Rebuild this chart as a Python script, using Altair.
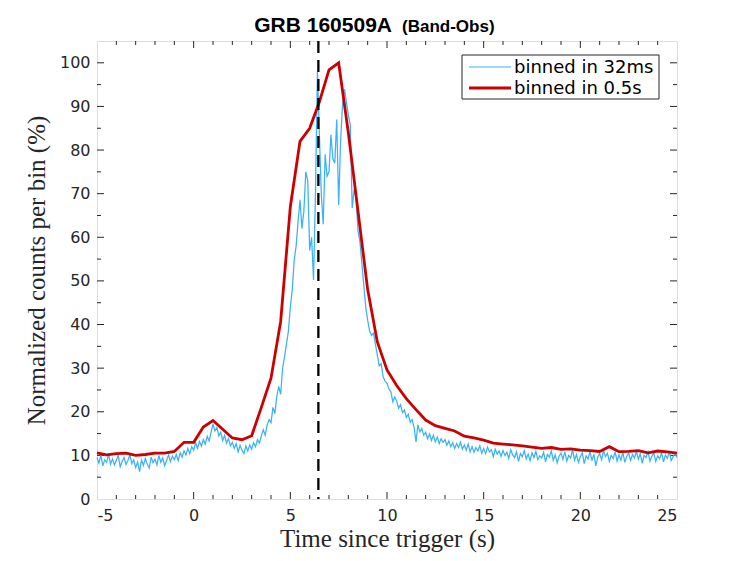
import altair as alt
import pandas as pd
import numpy as np

W, H = 580, 458

blue_start = -5.0
blue_step = 0.1
blue_vals = [
    9.5, 8.2, 10.1, 7.6, 9.0, 8.4, 10.3, 8.0, 9.2, 7.8,      # -5
    8.9, 10.0, 7.4, 8.6, 9.5, 7.9, 8.8, 10.2, 8.1, 9.0,      # -4
    7.2, 8.5, 6.3, 8.9, 7.7, 9.3, 8.0, 7.1, 9.6, 8.3,        # -3
    9.1, 7.8, 10.0, 8.4, 9.4, 7.6, 8.9, 10.1, 8.6, 9.8,      # -2
    9.0, 10.2, 8.8, 10.6, 9.6, 11.0, 10.1, 11.6, 10.4, 12.0, # -1
    11.2, 12.9, 11.6, 13.2, 12.1, 13.6, 12.6, 14.4, 13.3, 15.2,  # 0
    17.2, 15.6, 16.4, 14.5, 15.3, 13.4, 14.6, 12.8, 13.9, 12.2,  # 1
    13.0, 11.6, 12.7, 10.8, 12.3, 11.2, 10.4, 12.2, 11.0, 12.4,  # 2
    11.4, 12.9, 12.0, 13.6, 12.8, 14.5, 15.9, 14.6, 17.0, 18.2,  # 3
    17.5, 21.0, 19.6, 23.5, 25.8, 24.0, 30.0, 32.6, 35.5, 38.5,  # 4
    44.0, 48.0, 54.8, 58.0, 63.6, 68.6, 62.0, 66.0, 75.0, 73.0,  # 5
    57.0, 60.0, 50.2, 70.0, 98.0, 84.0, 70.0, 63.0, 79.0, 74.0,  # 6
    75.0, 83.5, 78.0, 77.0, 87.0, 67.4, 82.0, 90.4, 94.0, 91.0,  # 7
    88.0, 85.8, 66.7, 71.0, 69.0, 61.5, 59.0, 54.0, 49.0, 44.0,  # 8
    41.0, 38.5, 37.5, 38.0, 35.5, 33.0, 30.5, 31.0, 28.0, 27.0,  # 9
    26.5, 25.2, 24.6, 22.3, 23.4, 22.5, 20.8, 21.6, 19.8, 20.4,  # 10
    18.7, 19.4, 17.6, 18.2, 16.5, 13.1, 17.0, 15.4, 16.2, 14.6,  # 11
    15.3, 13.8, 14.9, 13.4, 14.6, 13.1, 14.2, 12.7, 13.8, 13.0,  # 12
    13.6, 12.3, 13.3, 12.0, 12.9, 11.6, 12.7, 11.8, 13.0, 11.4,  # 13
    12.4, 11.2, 12.6, 10.8, 12.0, 10.7, 11.8, 11.0, 12.2, 10.5,  # 14
    11.6, 10.4, 11.9, 10.8, 11.3, 9.7, 11.4, 10.3, 11.0, 9.8,    # 15
    11.1, 10.0, 10.7, 9.3, 11.3, 10.1, 9.5, 10.8, 8.6, 10.4,     # 16
    9.7, 11.1, 9.2, 10.3, 8.8, 10.6, 9.5, 10.9, 9.0, 9.9,        # 17
    9.4, 10.7, 8.5, 10.2, 9.6, 11.0, 8.9, 10.1, 8.3, 9.8,        # 18
    10.5, 9.1, 10.8, 8.7, 10.0, 9.4, 11.3, 8.9, 10.2, 8.4,       # 19
    9.7, 10.6, 8.1, 9.9, 9.2, 10.9, 8.8, 10.3, 7.6, 9.6,         # 20
    10.4, 9.0, 11.1, 9.7, 10.5, 8.6, 10.0, 9.3, 10.8, 8.7,       # 21
    10.1, 8.9, 10.7, 8.4, 9.8, 10.5, 8.8, 10.2, 9.4, 10.9,       # 22
    9.1, 10.4, 8.2, 10.0, 9.5, 10.8, 8.7, 9.8, 10.5, 8.6,        # 23
    9.9, 9.2, 10.6, 8.5, 10.1, 9.3, 10.9, 8.8, 9.7, 10.3,        # 24
    9.5,                                                         # 25
]

# ---- 0.5 s light curve
red_start = -5.0
red_step = 0.5
red_vals = [
    10.6, 10.1, 10.4, 10.5, 10.0, 10.2, 10.5, 10.5,   # -5 .. -1.5
    10.9, 13.0, 13.0, 16.5, 18.0, 16.0, 14.0, 13.6,   # -1 .. 2.5
    14.5, 21.0, 27.7, 40.7, 67.0, 82.0, 85.0, 91.0,   # 3 .. 6.5
    98.4, 100.0, 84.0, 66.0, 48.0, 36.0, 29.6, 26.0,  # 7 .. 10.5
    23.0, 20.5, 18.1, 16.8, 16.2, 15.6, 14.4, 14.0,   # 11 .. 14.5
    13.5, 12.8, 12.6, 12.4, 12.2, 11.9, 11.6, 11.8,   # 15 .. 18.5
    11.4, 11.5, 11.2, 11.1, 10.9, 12.0, 10.85, 10.9,  # 19 .. 22.5
    11.1, 10.6, 11.0, 10.8, 10.5,                     # 23 .. 25
]

trigger_line = 6.45

x_major = [-5, 0, 5, 10, 15, 20, 25]
x_minor = [-4, -3, -2, -1, 1, 2, 3, 4, 6, 7, 8, 9, 11, 12, 13, 14,
           16, 17, 18, 19, 21, 22, 23, 24]
y_major = [0, 10, 20, 30, 40, 50, 60, 70, 80, 90, 100]
y_minor = [5, 15, 25, 35, 45, 55, 65, 75, 85, 95]

title_main = "GRB 160509A"
title_sub = "(Band-Obs)"
x_title = "Time since trigger (s)"
y_title = "Normalized counts per bin (%)"
legend_labels = ["binned in 32ms", "binned in 0.5s"]

BLUE = "#39b3f5"
RED = "#cc0000"
AX = "#262626"

blue_df = pd.DataFrame({
    "t": np.round(blue_start + blue_step * np.arange(len(blue_vals)), 3),
    "v": blue_vals,
})
red_df = pd.DataFrame({
    "t": np.round(red_start + red_step * np.arange(len(red_vals)), 3),
    "v": red_vals,
})

xscale = alt.Scale(domain=[-5, 25], nice=False, zero=False)
yscale = alt.Scale(domain=[0, 105], nice=False, zero=False)

xaxis = alt.Axis(values=x_major, title=x_title, grid=False, ticks=False, tickSize=0,
                 domain=False, labelFont="DejaVu Sans", labelFontSize=16,
                 labelColor=AX, labelPadding=8, titleFont="Liberation Serif",
                 titleFontSize=25, titleFontWeight="normal", titleColor=AX,
                 titlePadding=3, labelExpr="'' + datum.value")
yaxis = alt.Axis(values=y_major, title=y_title, grid=False, ticks=False, tickSize=0,
                 domain=False, labelFont="DejaVu Sans", labelFontSize=16,
                 labelColor=AX, labelPadding=7, titleFont="Liberation Serif",
                 titleFontSize=25, titleFontWeight="normal", titleColor=AX,
                 titlePadding=10, labelExpr="'' + datum.value")


def X(field):
    return alt.X(field, type="quantitative", scale=xscale, axis=xaxis)


def Y(field):
    return alt.Y(field, type="quantitative", scale=yscale, axis=yaxis)


blue = alt.Chart(blue_df).mark_line(color=BLUE, strokeWidth=1.25).encode(x=X("t"), y=Y("v"))
red = alt.Chart(red_df).mark_line(color=RED, strokeWidth=2.8, strokeJoin="miter").encode(
    x=X("t"), y=Y("v"))

trig = alt.Chart(pd.DataFrame({"t": [trigger_line]})).mark_rule(
    color="black", strokeWidth=2.3, strokeDash=[12, 7]).encode(
    x=X("t"), y=alt.value(0), y2=alt.value(H))

xmaj_df = pd.DataFrame({"t": x_major[1:-1]})
xmin_df = pd.DataFrame({"t": x_minor})
ymaj_df = pd.DataFrame({"v": y_major[1:]})
ymin_df = pd.DataFrame({"v": y_minor})

tick_layers = []
for df, ln in [(xmaj_df, 7), (xmin_df, 4)]:
    tick_layers.append(alt.Chart(df).mark_rule(color=AX, strokeWidth=1).encode(
        x=X("t"), y=alt.value(H), y2=alt.value(H - ln)))
    tick_layers.append(alt.Chart(df).mark_rule(color=AX, strokeWidth=1).encode(
        x=X("t"), y=alt.value(0), y2=alt.value(ln)))
for df, ln in [(ymaj_df, 7), (ymin_df, 4)]:
    tick_layers.append(alt.Chart(df).mark_rule(color=AX, strokeWidth=1).encode(
        y=Y("v"), x=alt.value(0), x2=alt.value(ln)))
    tick_layers.append(alt.Chart(df).mark_rule(color=AX, strokeWidth=1).encode(
        y=Y("v"), x=alt.value(W), x2=alt.value(W - ln)))

one = alt.Data(values=[{"a": 1}])
leg_box = alt.Chart(one).mark_rect(fill="white", stroke=AX, strokeWidth=1).encode(
    x=alt.value(365), x2=alt.value(562), y=alt.value(14), y2=alt.value(58))
leg_blue = alt.Chart(one).mark_rule(color=BLUE, strokeWidth=1.1).encode(
    x=alt.value(372), x2=alt.value(414), y=alt.value(26))
leg_red = alt.Chart(one).mark_rule(color=RED, strokeWidth=2.8).encode(
    x=alt.value(372), x2=alt.value(414), y=alt.value(47))
leg_t1 = alt.Chart(one).mark_text(text=legend_labels[0], align="left", baseline="alphabetic",
                                  font="DejaVu Sans", fontSize=18, color="black").encode(
    x=alt.value(417), y=alt.value(32))
leg_t2 = alt.Chart(one).mark_text(text=legend_labels[1], align="left", baseline="alphabetic",
                                  font="DejaVu Sans", fontSize=18, color="black").encode(
    x=alt.value(417), y=alt.value(52.5))

t_main = alt.Chart(one).mark_text(text=title_main, align="right", baseline="alphabetic",
                                  font="Liberation Sans", fontSize=21, fontWeight="bold",
                                  color="black").encode(x=alt.value(295), y=alt.value(-9))
t_sub = alt.Chart(one).mark_text(text=title_sub, align="left", baseline="alphabetic",
                                 font="Liberation Sans", fontSize=17, fontWeight="bold",
                                 color="black").encode(x=alt.value(305), y=alt.value(-9))

chart = alt.layer(
    *tick_layers, blue, red, trig, leg_box, leg_blue, leg_red, leg_t1, leg_t2, t_main, t_sub
).properties(
    width=W, height=H,
    autosize=alt.AutoSizeParams(type="none"),
    padding={"left": 89, "top": 33, "right": 62, "bottom": 54},
).configure_view(stroke=AX, strokeWidth=1.2).configure(background="white")

chart.save("out.html", embed_options={"renderer": "svg", "actions": False})
